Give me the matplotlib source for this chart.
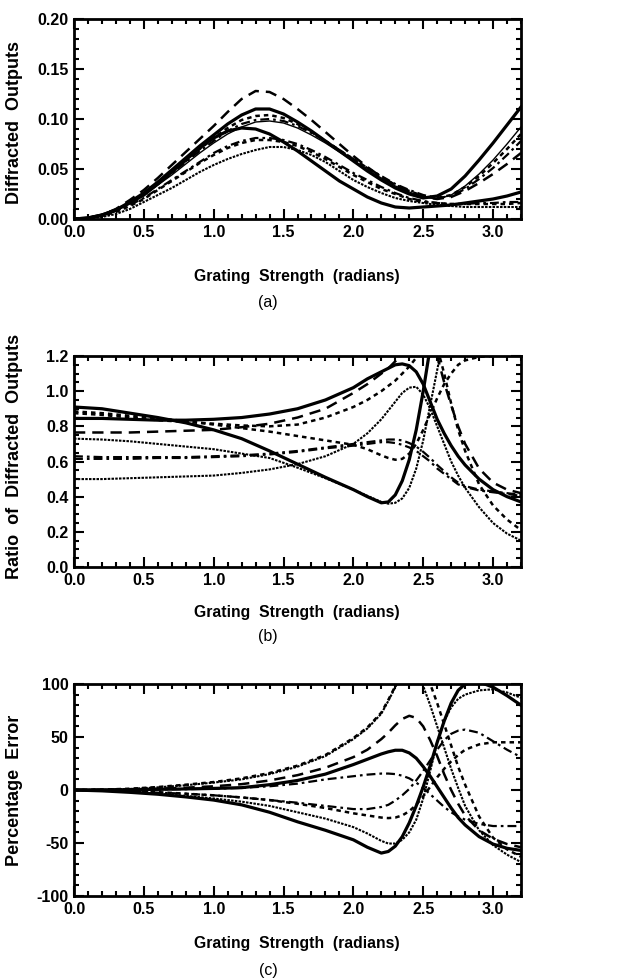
import numpy as np
import matplotlib
matplotlib.use('Agg')
import matplotlib.pyplot as plt
from matplotlib.ticker import MultipleLocator, FormatStrFormatter

plt.rcParams['font.family'] = ['Liberation Sans', 'DejaVu Sans']
nan = np.nan

# ---- panel (a): diffracted outputs ----
xa = [0.0, 0.1, 0.2, 0.3, 0.4, 0.5, 0.6, 0.7, 0.8, 0.9, 1.0, 1.1, 1.2, 1.3, 1.4, 1.5,
      1.6, 1.7, 1.8, 1.9, 2.0, 2.1, 2.2, 2.3, 2.4, 2.5, 2.6, 2.7, 2.8, 2.9, 3.0, 3.1, 3.2]
a_dashed = [0, 0.001, 0.004, 0.010, 0.019, 0.029, 0.041, 0.054, 0.067, 0.080, 0.093, 0.107, 0.120, 0.128, 0.127, 0.120,
            0.110, 0.099, 0.087, 0.075, 0.063, 0.052, 0.042, 0.034, 0.027, 0.022, 0.020, 0.022, 0.028, 0.036, 0.045, 0.055, 0.066]
a_thick1 = [0, 0.001, 0.004, 0.009, 0.017, 0.026, 0.037, 0.049, 0.061, 0.073, 0.084, 0.095, 0.104, 0.110, 0.110, 0.105,
            0.097, 0.088, 0.078, 0.068, 0.058, 0.048, 0.039, 0.031, 0.025, 0.021, 0.023, 0.030, 0.043, 0.059, 0.076, 0.094, 0.112]
a_dotted1 = [0, 0.001, 0.004, 0.009, 0.016, 0.025, 0.035, 0.046, 0.058, 0.070, 0.081, 0.091, 0.099, 0.103, 0.104, 0.101,
             0.095, 0.087, 0.078, 0.069, 0.060, 0.051, 0.042, 0.034, 0.028, 0.023, 0.021, 0.024, 0.032, 0.043, 0.056, 0.070, 0.085]
a_dashdot1 = [0, 0.001, 0.004, 0.009, 0.016, 0.025, 0.035, 0.046, 0.057, 0.068, 0.078, 0.088, 0.095, 0.099, 0.100, 0.098,
              0.093, 0.086, 0.078, 0.069, 0.060, 0.051, 0.043, 0.035, 0.029, 0.024, 0.021, 0.023, 0.030, 0.040, 0.051, 0.064, 0.078]
a_thin = [0, 0.001, 0.004, 0.009, 0.016, 0.024, 0.034, 0.044, 0.055, 0.066, 0.076, 0.085, 0.092, 0.097, 0.098, 0.096,
          0.091, 0.084, 0.076, 0.067, 0.058, 0.049, 0.041, 0.033, 0.027, 0.022, 0.020, 0.024, 0.033, 0.045, 0.059, 0.075, 0.092]
a_thick2 = [0, 0.001, 0.004, 0.009, 0.016, 0.024, 0.035, 0.047, 0.059, 0.071, 0.081, 0.088, 0.091, 0.090, 0.085, 0.077,
            0.068, 0.058, 0.048, 0.038, 0.030, 0.022, 0.016, 0.012, 0.011, 0.012, 0.013, 0.014, 0.016, 0.018, 0.020, 0.023, 0.027]
a_dashdot2 = [0, 0.001, 0.003, 0.008, 0.014, 0.021, 0.030, 0.039, 0.048, 0.057, 0.066, 0.073, 0.078, 0.081, 0.081, 0.079,
              0.075, 0.069, 0.062, 0.054, 0.046, 0.039, 0.032, 0.026, 0.021, 0.018, 0.016, 0.015, 0.015, 0.016, 0.016, 0.017, 0.017]
a_dotted2 = [0, 0.001, 0.003, 0.007, 0.013, 0.020, 0.029, 0.038, 0.047, 0.056, 0.064, 0.071, 0.076, 0.079, 0.079, 0.077,
             0.073, 0.067, 0.060, 0.052, 0.044, 0.037, 0.030, 0.025, 0.020, 0.017, 0.016, 0.015, 0.015, 0.015, 0.015, 0.015, 0.016]
a_hatched = [0, 0.0005, 0.002, 0.005, 0.010, 0.017, 0.024, 0.031, 0.039, 0.047, 0.054, 0.060, 0.065, 0.069, 0.072, 0.072,
             0.069, 0.064, 0.057, 0.048, 0.039, 0.032, 0.026, 0.021, 0.018, 0.016, 0.014, 0.013, 0.012, 0.012, 0.012, 0.012, 0.012]

# ---- panels (b) and (c) share this x grid ----
xb = [0.0, 0.2, 0.4, 0.6, 0.8, 1.0, 1.2, 1.4, 1.6, 1.8, 2.0, 2.1, 2.2, 2.25, 2.3, 2.35, 2.4,
      2.45, 2.5, 2.55, 2.6, 2.65, 2.7, 2.75, 2.8, 2.9, 3.0, 3.1, 3.2]

b_thickA = [0.91, 0.90, 0.875, 0.85, 0.82, 0.78, 0.73, 0.66, 0.585, 0.51, 0.44, 0.40, 0.365, 0.37, 0.41, 0.49, 0.61,
            0.78, 1.0, 1.25, nan, nan, nan, nan, nan, nan, nan, nan, nan]
b_hatchedA = [0.73, 0.725, 0.715, 0.70, 0.685, 0.67, 0.645, 0.62, 0.565, 0.505, 0.44, 0.405, 0.37, 0.36, 0.365, 0.39, 0.45,
              0.56, 0.72, 0.92, 1.12, 1.32, nan, nan, nan, nan, nan, nan, nan]
b_thickB = [0.845, 0.845, 0.84, 0.835, 0.835, 0.84, 0.85, 0.87, 0.90, 0.95, 1.02, 1.07, 1.11, 1.13, 1.15, 1.155, 1.145,
            1.11, 1.04, 0.94, 0.84, 0.76, 0.69, 0.63, 0.58, 0.50, 0.44, 0.40, 0.37]
b_hatchedB = [0.50, 0.50, 0.505, 0.51, 0.515, 0.52, 0.535, 0.555, 0.585, 0.63, 0.70, 0.76, 0.84, 0.89, 0.94, 0.99, 1.02,
              1.025, 0.98, 0.90, 0.80, 0.70, 0.60, 0.52, 0.45, 0.34, 0.25, 0.19, 0.15]
b_dashed = [0.765, 0.765, 0.765, 0.77, 0.775, 0.78, 0.795, 0.815, 0.85, 0.90, 0.99, 1.04, 1.10, 1.13, 1.17, 1.21, 1.28,
            1.40, 1.50, 1.40, 1.20, 1.05, 0.92, 0.80, 0.70, 0.56, 0.48, 0.44, 0.42]
b_dotted1 = [0.875, 0.865, 0.85, 0.835, 0.825, 0.815, 0.805, 0.80, 0.81, 0.85, 0.91, 0.95, 1.00, 1.03, 1.06, 1.10, 1.14,
             1.19, 1.26, 1.35, 1.25, 1.10, 0.93, 0.78, 0.66, 0.47, 0.35, 0.27, 0.21]
b_dotted2 = [0.885, 0.875, 0.86, 0.845, 0.83, 0.81, 0.79, 0.77, 0.745, 0.72, 0.695, 0.67, 0.635, 0.62, 0.61, 0.615, 0.645,
             0.70, 0.78, 0.87, 0.96, 1.04, 1.10, 1.15, 1.175, 1.195, 1.20, 1.205, 1.21]
b_dashdot1 = [0.63, 0.625, 0.625, 0.625, 0.625, 0.63, 0.635, 0.645, 0.66, 0.68, 0.70, 0.71, 0.72, 0.725, 0.725, 0.72, 0.705,
              0.685, 0.655, 0.62, 0.58, 0.545, 0.51, 0.48, 0.46, 0.44, 0.43, 0.42, 0.41]
b_dashdot2 = [0.615, 0.615, 0.615, 0.62, 0.62, 0.625, 0.63, 0.64, 0.655, 0.675, 0.69, 0.70, 0.71, 0.71, 0.705, 0.695, 0.68,
              0.66, 0.63, 0.60, 0.56, 0.53, 0.50, 0.47, 0.455, 0.435, 0.425, 0.415, 0.405]

c_hatched1 = [0, 0.3, 1, 2.5, 4.5, 7, 10, 15, 22, 32, 48, 58, 72, 84, 97, 110, 120,
              112, 98, 80, 60, 40, 20, 2, -15, -38, -52, -61, -68]
c_dotted1 = [0, 0.4, 1.2, 2.8, 5, 7.5, 11, 16, 23, 33, 49, 59, 73, 85, 98, 112, 122,
             124, 115, 100, 82, 62, 42, 22, 5, -25, -45, -56, -63]
c_dashed = [0, 0.2, 0.6, 1.2, 2.2, 3.5, 5.5, 9, 14, 21, 31, 38, 48, 54, 61, 67, 70,
            68, 60, 47, 32, 15, 0, -13, -24, -38, -46, -51, -54]
c_thick1 = [0, 0.1, 0.3, 0.6, 1, 1.5, 2.2, 5, 9, 15, 24, 29, 34, 36, 37.5, 37.5, 35,
            30, 22, 13, 3, -7, -17, -26, -33, -44, -51, -55, -57]
c_dashdot1 = [0, 0.1, 0.3, 0.5, 0.8, 1.2, 2, 3.5, 6, 10, 13, 14.5, 15.5, 15.5, 15, 13.5, 11,
              7, 2, -4, -10, -16, -21, -25, -28, -32, -34, -34, -34]
c_dotted2 = [0, -0.3, -1, -2, -3.5, -5, -7, -9.5, -13, -17, -22, -24, -26, -26.5, -26, -24, -20,
             -14, -6, 3, 12, 20, 27, 33, 38, 43, 45, 45, 45]
c_dashdot2 = [0, -0.4, -1.2, -2.5, -3.5, -5, -7, -9.5, -12, -15, -18, -18, -16, -14, -10, -5, 1,
              9, 18, 28, 38, 47, 53, 56, 57, 54, 46, 38, 31]
c_hatched2 = [0, -0.6, -1.8, -3.5, -5.5, -8, -11, -15, -21, -27, -35, -41, -48, -50.5, -50.5, -47, -40,
              -28, -8, 18, 45, 65, 78, 86, 90, 94, 95, 92, 87]
c_thick2 = [0, -0.8, -2.2, -4, -6.5, -9.5, -14, -21, -30, -38, -47, -54, -59.5, -58, -53, -44, -31,
            -15, 3, 23, 45, 65, 82, 94, 100, 102, 97, 89, 80]

# line styles
thick = dict(color='black', lw=2.3, ls='-')
thin = dict(color='black', lw=1.0, ls='-')
hatch = dict(color='black', lw=1.5, ls=(0, (1.2, 0.6)))
dashed = dict(color='black', lw=1.8, ls=(0, (4.5, 2.8)))
dotted = dict(color='black', lw=1.8, ls=(0, (1.8, 1.6)))
dashdot = dict(color='black', lw=1.6, ls=(0, (4, 1.8, 1.2, 1.8)))

fig = plt.figure(figsize=(6.21, 9.8), dpi=100)
W, H = 621.0, 980.0
left, width = 74 / W, 447 / W


def make_axes(top_px, bot_px):
    ax = fig.add_axes([left, 1 - bot_px / H, width, (bot_px - top_px) / H])
    for s in ax.spines.values():
        s.set_linewidth(2)
    ax.tick_params(which='both', direction='in', top=True, right=True, width=1.5)
    ax.tick_params(which='major', length=7, labelsize=11.5, pad=4)
    ax.tick_params(which='minor', length=3.5)
    ax.set_xlim(0, 3.2)
    ax.xaxis.set_major_locator(MultipleLocator(0.5))
    ax.xaxis.set_minor_locator(MultipleLocator(0.1))
    ax.xaxis.set_major_formatter(FormatStrFormatter('%.1f'))
    return ax


def labels(ax, ylab, ycen, xlab_y, cap, cap_y):
    for lab in ax.get_xticklabels() + ax.get_yticklabels():
        lab.set_fontweight('bold')
    fig.text(15 / W, 1 - ycen / H, ylab, rotation=90, ha='center', va='center',
             fontsize=13, fontweight='bold')
    fig.text(297 / W, 1 - xlab_y / H, 'Grating  Strength  (radians)', ha='center', va='center',
             fontsize=11.3, fontweight='bold')
    fig.text(268 / W, 1 - cap_y / H, cap, ha='center', va='center', fontsize=11.5)


# (a)
ax = make_axes(19, 219)
ax.set_ylim(0, 0.2)
ax.yaxis.set_major_locator(MultipleLocator(0.05))
ax.yaxis.set_minor_locator(MultipleLocator(0.01))
ax.yaxis.set_major_formatter(FormatStrFormatter('%.2f'))
ax.plot(xa, a_dashed, **dashed)
ax.plot(xa, a_thick1, **thick)
ax.plot(xa, a_dotted1, **dotted)
ax.plot(xa, a_dashdot1, **dashdot)
ax.plot(xa, a_thin, **thin)
ax.plot(xa, a_thick2, **thick)
ax.plot(xa, a_dashdot2, **dashdot)
ax.plot(xa, a_dotted2, **dotted)
ax.plot(xa, a_hatched, **hatch)
labels(ax, 'Diffracted  Outputs', 122, 277, '(a)', 302)

# (b)
ax = make_axes(356, 567)
ax.set_ylim(0, 1.2)
ax.yaxis.set_major_locator(MultipleLocator(0.2))
ax.yaxis.set_minor_locator(MultipleLocator(0.05))
ax.yaxis.set_major_formatter(FormatStrFormatter('%.1f'))
ax.plot(xb, b_thickA, **thick)
ax.plot(xb, b_hatchedA, **hatch)
ax.plot(xb, b_thickB, **thick)
ax.plot(xb, b_hatchedB, **hatch)
ax.plot(xb, b_dashed, **dashed)
ax.plot(xb, b_dotted1, **dotted)
ax.plot(xb, b_dotted2, **dotted)
ax.plot(xb, b_dashdot1, **dashdot)
ax.plot(xb, b_dashdot2, **dashdot)
labels(ax, 'Ratio  of  Diffracted  Outputs', 456, 613, '(b)', 636)

# (c)
ax = make_axes(684, 896)
ax.set_ylim(-100, 100)
ax.yaxis.set_major_locator(MultipleLocator(50))
ax.yaxis.set_minor_locator(MultipleLocator(10))
ax.yaxis.set_major_formatter(FormatStrFormatter('%d'))
ax.plot(xb, c_hatched1, **hatch)
ax.plot(xb, c_dotted1, **dotted)
ax.plot(xb, c_dashed, **dashed)
ax.plot(xb, c_thick1, **thick)
ax.plot(xb, c_dashdot1, **dashdot)
ax.plot(xb, c_dotted2, **dotted)
ax.plot(xb, c_dashdot2, **dashdot)
ax.plot(xb, c_hatched2, **hatch)
ax.plot(xb, c_thick2, **thick)
labels(ax, 'Percentage  Error', 790, 943, '(c)', 970)

fig.savefig('out.png', dpi=100)
